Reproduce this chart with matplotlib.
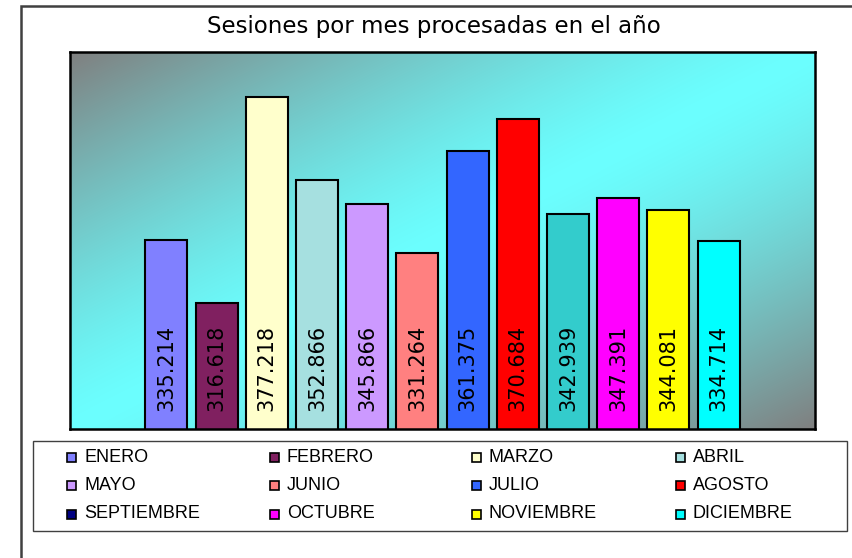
import numpy as np
import matplotlib
matplotlib.use("Agg")
import matplotlib.pyplot as plt
from matplotlib.patches import Rectangle

# Data
months = ["ENERO", "FEBRERO", "MARZO", "ABRIL", "MAYO", "JUNIO",
          "JULIO", "AGOSTO", "SEPTIEMBRE", "OCTUBRE", "NOVIEMBRE", "DICIEMBRE"]
sessions = [335.214, 316.618, 377.218, 352.866, 345.866, 331.264,
            361.375, 370.684, 342.939, 347.391, 344.081, 334.714]
value_labels = ["335.214", "316.618", "377.218", "352.866", "345.866", "331.264",
                "361.375", "370.684", "342.939", "347.391", "344.081", "334.714"]
bar_colors = ["#8080FF", "#802060", "#FFFFCC", "#A6E0E0", "#CC99FF", "#FF8080",
              "#3366FF", "#FF0000", "#33CCCC", "#FF00FF", "#FFFF00", "#00FFFF"]
legend_colors = ["#8080FF", "#802060", "#FFFFCC", "#A6E0E0", "#CC99FF", "#FF8080",
                 "#3366FF", "#FF0000", "#000080", "#FF00FF", "#FFFF00", "#00FFFF"]

W, H = 852, 558
fig = plt.figure(figsize=(W / 100, H / 100), dpi=100)
fig.patch.set_facecolor("white")

# outer chart frame (only left/top edges are visible in the picture)
fig.add_artist(Rectangle((21 / W, -0.1), 1.2, 1 - 6 / H + 0.1, transform=fig.transFigure,
                         fill=False, edgecolor="#404040", linewidth=1.8))

ax = fig.add_axes([70 / W, 1 - 429 / H, (815 - 70) / W, (429 - 52) / H])
x = np.arange(len(months))
xlim = (-1.92, len(months) - 1 + 1.92)
ylim = (279.55, 390.46)

# diagonal gradient background: gray corners, cyan band
gray = np.array([0.5, 0.5, 0.5])
cyan = np.array([0.42, 1.0, 1.0])
u = np.linspace(0, 1, 300)[None, :]
v = np.linspace(0, 1, 200)[:, None]
t = np.abs((u + v) - 1.0)
m = np.clip(t, 0, 1) ** 1.35
grad = cyan[None, None, :] * (1 - m[..., None]) + gray[None, None, :] * m[..., None]
ax.imshow(grad, extent=(xlim[0], xlim[1], ylim[0], ylim[1]), aspect="auto",
          origin="upper", zorder=0, interpolation="bilinear")

ax.bar(x, sessions, width=0.84, bottom=0, color=bar_colors,
       edgecolor="black", linewidth=1.5, zorder=2)

for xi, lab in zip(x, value_labels):
    ax.text(xi, 297.5, lab, rotation=90, ha="center", va="center",
            fontsize=15, family="DejaVu Sans", color="black", zorder=3)

ax.set_xlim(xlim)
ax.set_ylim(ylim)
ax.set_xticks([])
ax.set_yticks([])
for sp in ax.spines.values():
    sp.set_linewidth(1.8)
    sp.set_color("black")

fig.text(433.5 / W, 1 - 26 / H, "Sesiones por mes procesadas en el año",
         ha="center", va="center", fontsize=16.5, family="DejaVu Sans")

# legend box, filled row by row like the original
fig.add_artist(Rectangle((33 / W, 1 - 531 / H), (847 - 33) / W, 90 / H,
                         transform=fig.transFigure, facecolor="white",
                         edgecolor="#404040", linewidth=1.0))
col_x = [67, 270, 472, 676]
row_y = [457, 485, 514]
for i, (name, col) in enumerate(zip(months, legend_colors)):
    cx = col_x[i % 4]
    cy = row_y[i // 4]
    fig.add_artist(Rectangle((cx / W, 1 - (cy + 4.5) / H), 9 / W, 9 / H,
                             transform=fig.transFigure, facecolor=col,
                             edgecolor="black", linewidth=1.2))
    fig.text((cx + 17) / W, 1 - cy / H, name, ha="left", va="center",
             fontsize=13, family="Liberation Sans")

fig.savefig("out.png", dpi=100)
